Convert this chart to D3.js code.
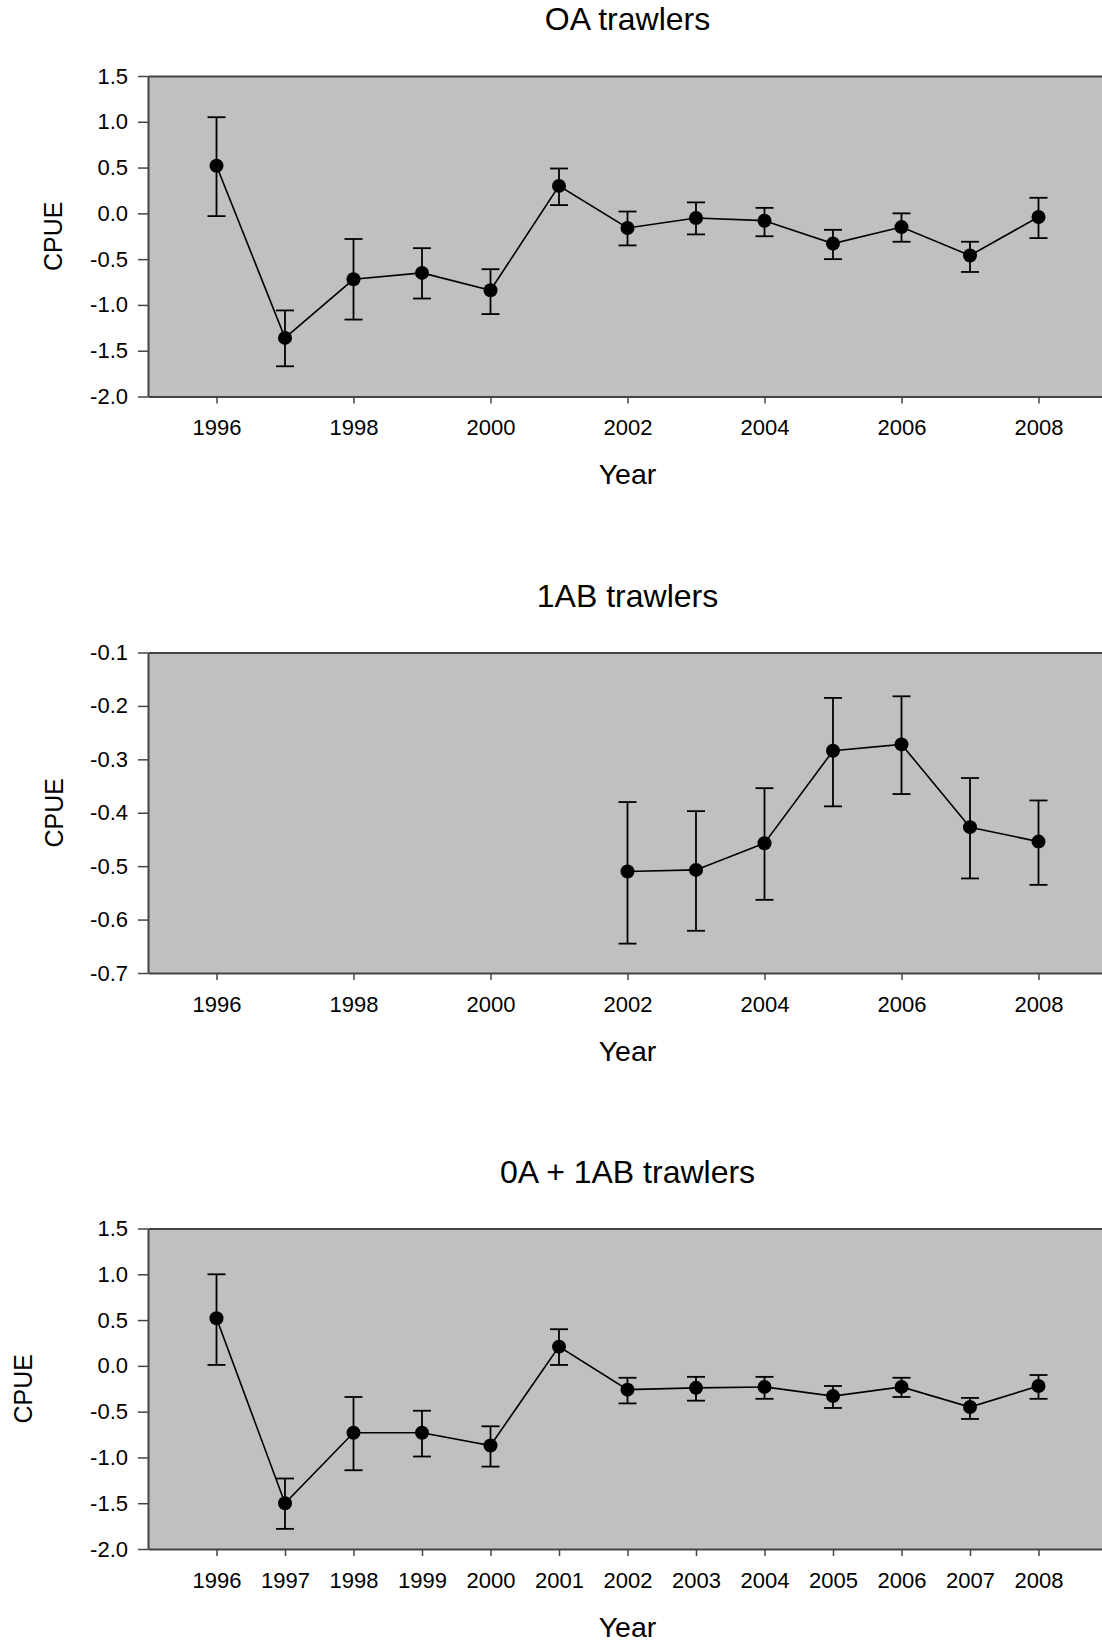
<!DOCTYPE html>
<html lang="en">
<head>
    <meta charset="UTF-8">
    <title>CPUE by year</title>
    <script src="https://cdnjs.cloudflare.com/ajax/libs/d3/7.8.5/d3.min.js"></script>
    <style>
        body {
            margin: 0;
            background: #fff;
            font-family: "Liberation Sans", Arial, sans-serif;
        }
        .frame {
            fill: #c0c0c0;
        }
        .axis path, .axis line {
            stroke: #444;
        }
        .axis path {
            stroke-width: 2;
        }
        .axis line {
            stroke-width: 1.5;
        }
        .axis text {
            font-family: "Liberation Sans", Arial, sans-serif;
            font-size: 22px;
            fill: #000;
        }
        .line {
            fill: none;
            stroke: #000;
            stroke-width: 1.6;
        }
        .err {
            stroke: #000;
            stroke-width: 1.8;
        }
        .dot {
            fill: #000;
        }
        .chart-title {
            font-size: 32px;
            text-anchor: middle;
        }
        .x-label {
            font-size: 28.5px;
            text-anchor: middle;
        }
        .y-label {
            font-size: 25px;
            text-anchor: middle;
        }
    </style>
</head>
<body>
    <div id="chart"></div>

    <script>
        // Years and tick values
        const years = [1996, 1997, 1998, 1999, 2000, 2001, 2002, 2003, 2004, 2005, 2006, 2007, 2008];
        const yearsAB = [2002, 2003, 2004, 2005, 2006, 2007, 2008];
        const evenYearTicks = [1996, 1998, 2000, 2002, 2004, 2006, 2008];
        const cpueTicksWide = [-2.0, -1.5, -1.0, -0.5, 0.0, 0.5, 1.0, 1.5];
        const cpueTicksNarrow = [-0.7, -0.6, -0.5, -0.4, -0.3, -0.2, -0.1];

        // OA trawlers
        const oaMean  = [0.52, -1.36, -0.72, -0.65, -0.84, 0.30, -0.16, -0.05, -0.08, -0.33, -0.15, -0.46, -0.04];
        const oaUpper = [1.05, -1.06, -0.28, -0.38, -0.61, 0.49, 0.02, 0.12, 0.06, -0.18, 0.00, -0.31, 0.17];
        const oaLower = [-0.03, -1.67, -1.16, -0.93, -1.10, 0.09, -0.35, -0.23, -0.25, -0.50, -0.31, -0.64, -0.27];

        // 1AB trawlers
        const abMean  = [-0.510, -0.507, -0.457, -0.284, -0.272, -0.427, -0.454];
        const abUpper = [-0.380, -0.397, -0.354, -0.185, -0.182, -0.335, -0.377];
        const abLower = [-0.645, -0.621, -0.563, -0.388, -0.365, -0.523, -0.535];

        // 0A + 1AB trawlers
        const combMean  = [0.52, -1.50, -0.73, -0.73, -0.87, 0.21, -0.26, -0.24, -0.23, -0.33, -0.23, -0.45, -0.22];
        const combUpper = [1.00, -1.23, -0.34, -0.49, -0.66, 0.40, -0.13, -0.12, -0.12, -0.22, -0.13, -0.35, -0.10];
        const combLower = [0.01, -1.78, -1.14, -0.99, -1.10, 0.01, -0.41, -0.38, -0.36, -0.46, -0.34, -0.58, -0.36];

        const W = 1102, H = 1644;
        const svg = d3.select("#chart")
            .append("svg")
            .attr("width", W)
            .attr("height", H);

        const toRows = (xs, m, u, l) => xs.map((x, i) => ({year: x, mean: m[i], upper: u[i], lower: l[i]}));

        const panels = [
            {title: "OA trawlers", top: 76, rows: toRows(years, oaMean, oaUpper, oaLower),
             yDomain: [-2.0, 1.5], yTicks: cpueTicksWide, xTicks: evenYearTicks, labelX: 53},
            {title: "1AB trawlers", top: 652.5, rows: toRows(yearsAB, abMean, abUpper, abLower),
             yDomain: [-0.7, -0.1], yTicks: cpueTicksNarrow, xTicks: evenYearTicks, labelX: 54},
            {title: "0A + 1AB trawlers", top: 1228.5, rows: toRows(years, combMean, combUpper, combLower),
             yDomain: [-2.0, 1.5], yTicks: cpueTicksWide, xTicks: years, labelX: 23}
        ];

        const left = 148, right = 1107, plotH = 320.5;

        const x = d3.scaleLinear()
            .domain([1995, 2009])
            .range([left, right]);

        panels.forEach(p => {
            const bottom = p.top + plotH;
            const y = d3.scaleLinear()
                .domain(p.yDomain)
                .range([bottom, p.top]);

            const g = svg.append("g");

            // grey plot area
            g.append("rect")
                .attr("class", "frame")
                .attr("x", left)
                .attr("y", p.top)
                .attr("width", right - left)
                .attr("height", plotH);

            // top border
            g.append("g")
                .attr("class", "axis")
                .attr("transform", `translate(0,${p.top})`)
                .call(d3.axisTop(x).tickValues([]).tickSizeOuter(0));

            // x axis
            g.append("g")
                .attr("class", "axis")
                .attr("transform", `translate(0,${bottom})`)
                .call(d3.axisBottom(x)
                    .tickValues(p.xTicks)
                    .tickFormat(d3.format("d"))
                    .tickSize(7)
                    .tickSizeOuter(0)
                    .tickPadding(16));

            // y axis
            g.append("g")
                .attr("class", "axis")
                .attr("transform", `translate(${left},0)`)
                .call(d3.axisLeft(y)
                    .tickValues(p.yTicks)
                    .tickFormat(d => d.toFixed(1))
                    .tickSize(10)
                    .tickSizeOuter(0)
                    .tickPadding(10));

            // error bars
            const bars = g.append("g").selectAll("g")
                .data(p.rows)
                .join("g");
            bars.append("line")
                .attr("class", "err")
                .attr("x1", d => x(d.year)).attr("x2", d => x(d.year))
                .attr("y1", d => y(d.upper)).attr("y2", d => y(d.lower));
            bars.append("line")
                .attr("class", "err")
                .attr("x1", d => x(d.year) - 9).attr("x2", d => x(d.year) + 9)
                .attr("y1", d => y(d.upper)).attr("y2", d => y(d.upper));
            bars.append("line")
                .attr("class", "err")
                .attr("x1", d => x(d.year) - 9).attr("x2", d => x(d.year) + 9)
                .attr("y1", d => y(d.lower)).attr("y2", d => y(d.lower));

            // connecting line
            const line = d3.line()
                .x(d => x(d.year))
                .y(d => y(d.mean));
            g.append("path")
                .datum(p.rows)
                .attr("class", "line")
                .attr("d", line);

            // points
            g.append("g").selectAll("circle")
                .data(p.rows)
                .join("circle")
                .attr("class", "dot")
                .attr("cx", d => x(d.year))
                .attr("cy", d => y(d.mean))
                .attr("r", 7);

            // title
            g.append("text")
                .attr("class", "chart-title")
                .attr("x", (left + right) / 2)
                .attr("y", p.top - 57)
                .attr("dy", "0.35em")
                .text(p.title);

            // x label
            g.append("text")
                .attr("class", "x-label")
                .attr("x", (left + right) / 2)
                .attr("y", bottom + 78)
                .attr("dy", "0.35em")
                .text("Year");

            // y label
            g.append("text")
                .attr("class", "y-label")
                .attr("transform", `translate(${p.labelX},${p.top + plotH / 2}) rotate(-90)`)
                .attr("dy", "0.35em")
                .text("CPUE");
        });
    </script>
</body>
</html>
